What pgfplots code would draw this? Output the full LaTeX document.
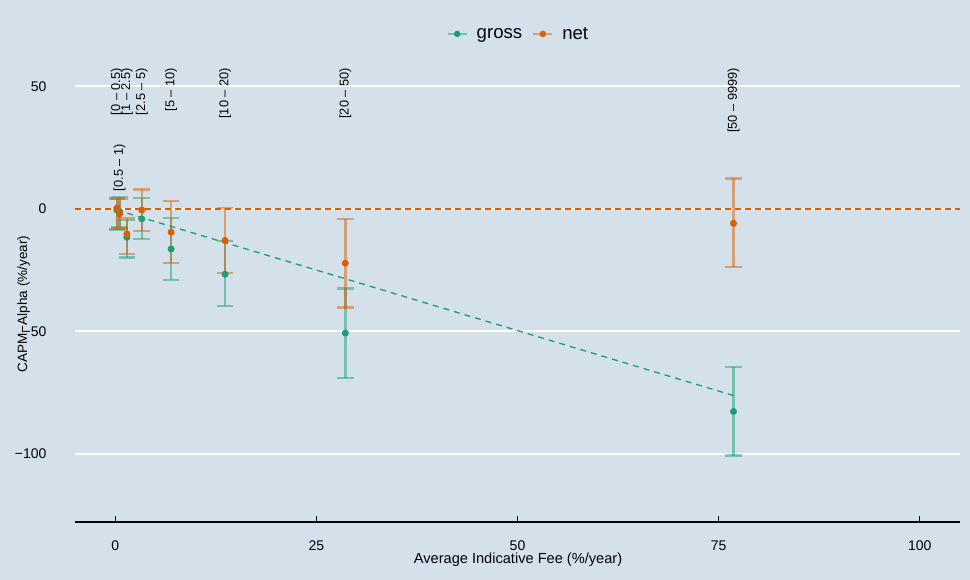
\documentclass[border=0pt]{standalone}
\usepackage{fontspec}
\setmainfont{Liberation Sans}
\usepackage{pgfplots}
\pgfplotsset{compat=1.18}
\usepackage{pgfplotstable}
\definecolor{bgcol}{HTML}{D4E1EA}
\definecolor{gcol}{HTML}{1B9E77}
\definecolor{ncol}{HTML}{D95F02}

\pgfplotstableread{
x y ep em
0.2 -0.5 4.5 8.0
0.55 -1.1 6.0 6.5
1.45 -11.6 7.2 8.3
3.3 -4.1 8.5 8.3
6.95 -16.4 12.6 12.6
13.65 -26.7 13.6 12.9
28.6 -50.7 18.2 18.2
76.85 -82.7 18.2 18.0
}\gross

\pgfplotstableread{
x y ep em
0.2 0.3 4.1 8.5
0.55 -2.0 6.0 6.0
1.45 -10.2 6.4 8.3
3.3 -0.5 8.4 8.5
6.95 -9.5 12.8 12.7
13.65 -12.9 13.4 13.3
28.6 -22.2 18.2 18.1
76.85 -5.9 18.3 17.9
}\net

\begin{document}
\begin{tikzpicture}[x=1pt,y=1pt]
\fill[bgcol] (0,0) rectangle (970,580);
\begin{axis}[
  at={(75pt,58pt)}, anchor=south west,
  scale only axis, width=885pt, height=457pt,
  xmin=-5, xmax=105, ymin=-127.8, ymax=58.7,
  axis background/.style={fill=bgcol},
  axis x line*=bottom, axis y line*=left,
  x axis line style={black, line width=1.3pt, -},
  y axis line style={draw=none},
  xtick={0,25,50,75,100},
  ytick={-100,-50,0,50},
  yticklabels={−100,−50,0,50},
  xtick align=inside,
  major tick length=6pt,
  xtick style={black, line width=1pt},
  ytick style={draw=none},
  ymajorgrids, major grid style={white, line width=2.2pt},
  /pgf/number format/assume math mode=true,
  tick label style={font=\fontsize{14}{16}\selectfont, black},
  xticklabel style={yshift=-15pt},
  yticklabel style={xshift=-25pt},
  xlabel={Average Indicative Fee (\%/year)},
  ylabel={CAPM−Alpha (\%/year)},
  label style={font=\fontsize{13.5}{15}\selectfont},
  xlabel style={font=\fontsize{14.6}{16}\selectfont, at={(axis description cs:0.5006,-0.091)}, anchor=base},
  ylabel style={at={(axis description cs:-0.0542,0.477)}, anchor=base},
  legend style={at={(axis description cs:0.501,1.068)}, anchor=center,
    draw=none, fill=none, legend columns=2,
    font=\fontsize{18.6}{20}\selectfont,
    /tikz/every even column/.append style={column sep=8pt}},
  every error bar/.append style={line width=2.4pt},
]
% error bars
\addplot[gcol, line width=2.4pt, opacity=0.5, only marks, mark=none, forget plot,
  error bars/.cd, y dir=both, y explicit,
  error bar style={gcol, opacity=0.5, line width=2.4pt},
  error mark options={rotate=90, mark size=8.3pt, gcol, line width=2.2pt, opacity=0.5}]
  table[x=x, y=y, y error plus=ep, y error minus=em] {\gross};
\addplot[ncol, line width=2.4pt, opacity=0.5, only marks, mark=none, forget plot,
  error bars/.cd, y dir=both, y explicit,
  error bar style={ncol, opacity=0.5, line width=2.4pt},
  error mark options={rotate=90, mark size=8.3pt, ncol, line width=2.2pt, opacity=0.5}]
  table[x=x, y=y, y error plus=ep, y error minus=em] {\net};
% reference lines
\addplot[ncol, line width=1.5pt, dash pattern=on 6pt off 4pt, forget plot]
  coordinates {(-5,0) (105,0)};
\addplot[gcol, line width=1.3pt, dash pattern=on 6pt off 5pt, forget plot]
  coordinates {(0.2,-0.5) (76.85,-76.2)};
% points
\addplot[only marks, mark=*, mark size=3.2pt, gcol, forget plot]
  table[x=x, y=y] {\gross};
\addplot[only marks, mark=*, mark size=3.2pt, ncol, forget plot]
  table[x=x, y=y] {\net};
% legend
\addlegendimage{legend image code/.code={
  \path[draw=none, fill=none] (0pt,0pt) -- (27pt,0pt);
  \draw[gcol, opacity=0.5, line width=2.2pt] (0pt,0pt) -- (19pt,0pt);
  \fill[gcol] (9.5pt,0pt) circle (3pt);}}
\addlegendentry{gross}
\addlegendimage{legend image code/.code={
  \path[draw=none, fill=none] (0pt,0pt) -- (27pt,0pt);
  \draw[ncol, opacity=0.5, line width=2.2pt] (0pt,0pt) -- (19pt,0pt);
  \fill[ncol] (9.5pt,0pt) circle (3pt);}}
\addlegendentry{net}
% bin labels
\begin{scope}[every node/.style={rotate=90, anchor=east, inner sep=0pt, font=\fontsize{12.8}{14}\selectfont}]
\node at (axis cs:0.2,57.5) {[0 – 0.5)};
\node at (axis cs:0.55,26.5) {[0.5 – 1)};
\node at (axis cs:1.45,57.5) {[1 – 2.5)};
\node at (axis cs:3.3,57.5) {[2.5 – 5)};
\node at (axis cs:6.95,57.5) {[5 – 10)};
\node at (axis cs:13.65,57.5) {[10 – 20)};
\node at (axis cs:28.6,57.5) {[20 – 50)};
\node at (axis cs:76.85,57.5) {[50 – 9999)};
\end{scope}
\end{axis}
\pgfresetboundingbox
\path (0,0) rectangle (970,580);
\end{tikzpicture}
\end{document}
